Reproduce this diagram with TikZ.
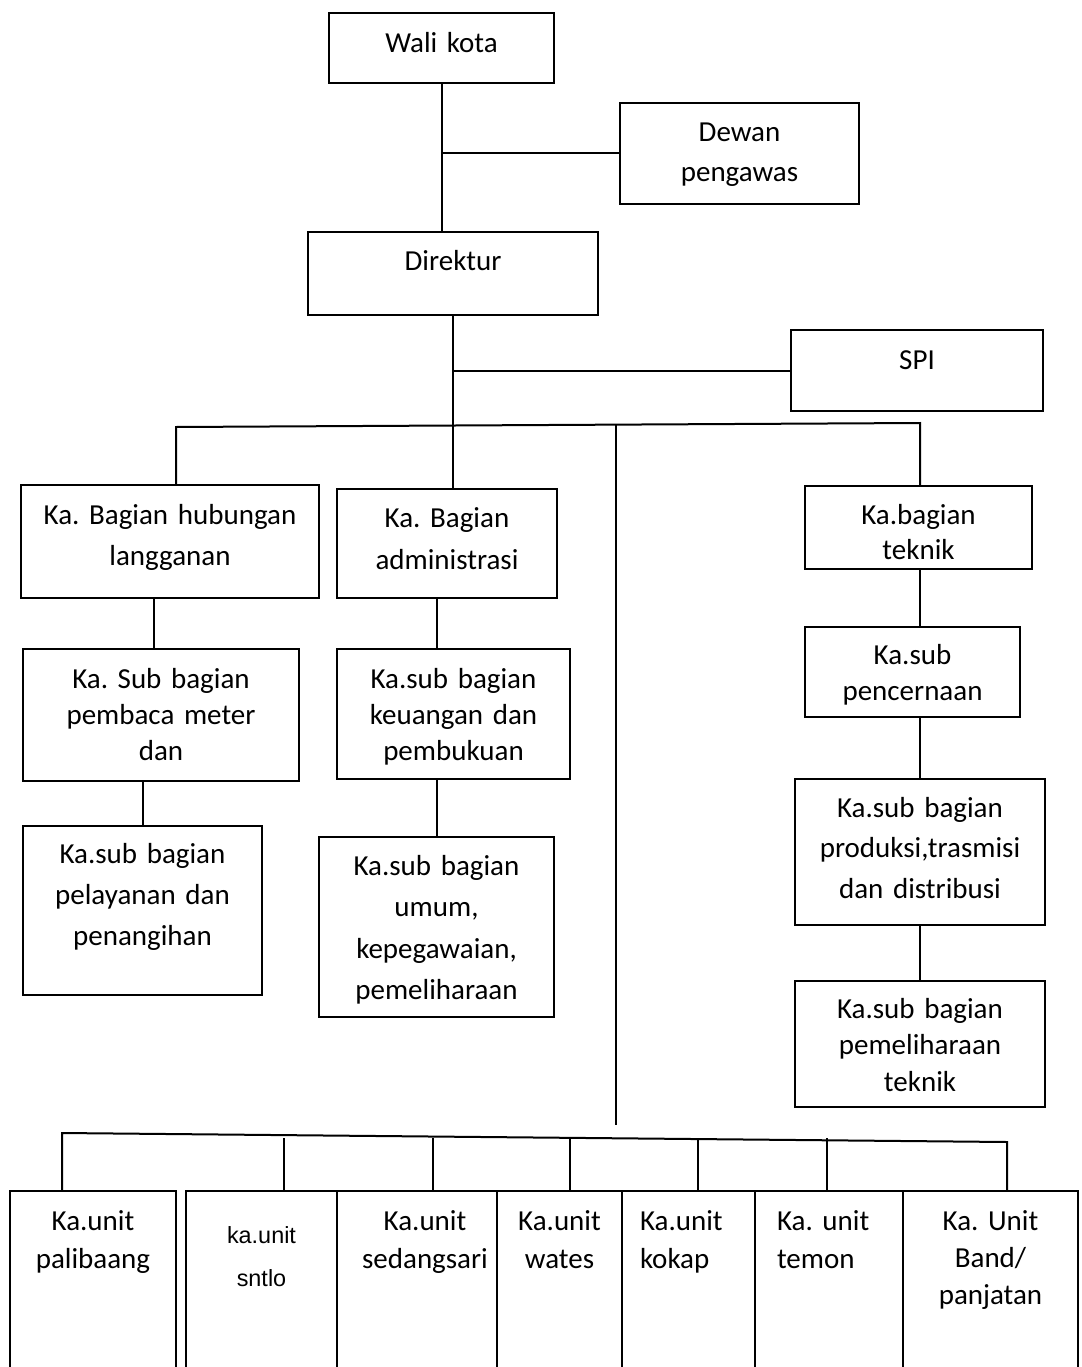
\documentclass[tikz,border=0pt]{standalone}
\usepackage{fontspec}
\setmainfont{Carlito}
\newfontfamily\arialfont{Liberation Sans}
\frenchspacing

\tikzset{
  orgbox/.style={draw, line width=2pt, inner xsep=0pt, inner ysep=0pt, anchor=base, align=center, font=\fontsize{29}{38}\selectfont},
  leadsp/.style={font=\fontsize{29}{#1}\selectfont},
  link/.style={line width=2pt},
}

\begin{document}
\begin{tikzpicture}[x=1pt, y=-1pt]
        \useasboundingbox (0,0) rectangle (1081,1367);
        \clip (0,0) rectangle (1081,1367);

        % top of the chart
        \node[orgbox, text width=225pt, text height=40pt, text depth=30pt] (wali) at (441.5,53) {Wali kota};
        \node[orgbox, leadsp=40, text width=239pt, text height=39pt, text depth=62pt] (dewan) at (739.5,142) {Dewan\\pengawas};
        \node[orgbox, text width=290pt, text height=38pt, text depth=45pt] (direktur) at (453,270) {Direktur};
        \node[orgbox, text width=252pt, text height=39pt, text depth=42pt] (spi) at (917,369) {SPI};

        % bagian
        \node[orgbox, leadsp=41, text width=298pt, text height=39pt, text depth=74pt] (hubungan) at (170,524) {Ka. Bagian hubungan\\langganan};
        \node[orgbox, leadsp=42, text width=220pt, text height=38pt, text depth=71pt] (admin) at (447,527) {Ka. Bagian\\administrasi};
        \node[orgbox, leadsp=35, text width=227pt, text height=38pt, text depth=45pt] (teknik) at (918.5,524) {Ka.bagian\\teknik};

        % sub bagian
        \node[orgbox, leadsp=36, text width=276pt, text height=39pt, text depth=93pt] (pembaca) at (161,688) {Ka. Sub bagian\\pembaca meter\\dan};
        \node[orgbox, leadsp=41, text width=239pt, text height=37pt, text depth=132pt] (pelayanan) at (142.5,863) {Ka.sub bagian\\pelayanan dan\\penangihan};
        \node[orgbox, leadsp=36, text width=233pt, text height=39pt, text depth=91pt] (keuangan) at (453.5,688) {Ka.sub bagian\\keuangan dan\\pembukuan};
        \node[orgbox, leadsp=41.5, text width=235pt, text height=38pt, text depth=142pt] (umum) at (436.5,875) {Ka.sub bagian\\umum,\\kepegawaian,\\pemeliharaan};
        \node[orgbox, leadsp=36, text width=215pt, text height=37pt, text depth=53pt] (pencernaan) at (912.5,664) {Ka.sub\\pencernaan};
        \node[orgbox, leadsp=40.5, text width=250pt, text height=38pt, text depth=108pt] (produksi) at (920,817) {Ka.sub bagian\\produksi,trasmisi\\dan distribusi};
        \node[orgbox, leadsp=36.5, text width=250pt, text height=37pt, text depth=89pt] (pemtek) at (920,1018) {Ka.sub bagian\\pemeliharaan\\teknik};

        % unit
        \node[orgbox, text width=166pt, text height=39pt, text depth=200pt] (palibaang) at (93,1230) {Ka.unit\\palibaang};
        \node[orgbox, font=\arialfont\fontsize{23.4}{43}\selectfont, text width=151pt, text height=52pt, text depth=187pt] (sntlo) at (261.5,1243) {ka.unit\\sntlo};
        \node[orgbox, text width=160pt, text height=39pt, text depth=200pt] (sedang) at (417,1230) {\hspace*{16pt}Ka.unit\\\hspace*{16pt}sedangsari};
        \node[orgbox, text width=125pt, text height=39pt, text depth=200pt] (wates) at (559.5,1230) {Ka.unit\\wates};
        \node[orgbox, align=left, text width=97pt, inner xsep=18pt, text height=39pt, text depth=200pt] (kokap) at (688.5,1230) {Ka.unit\\kokap};
        \node[orgbox, align=left, text width=104pt, inner xsep=22pt, text height=39pt, text depth=200pt] (temon) at (829,1230) {Ka. unit\\temon};
        \node[orgbox, leadsp=37, text width=175pt, text height=39pt, text depth=200pt] (band) at (990.5,1230) {Ka. Unit\\Band/\\panjatan};

        % lines
        \coordinate (busl) at (176,427);
        \coordinate (busr) at (920,423);
        \coordinate (midtop) at (616,425);
        \coordinate (midend) at (616,1125);
        \coordinate (ubl) at (62,1133);
        \coordinate (ubr) at (1007,1142);

        \draw[link] (wali.south) -- (wali.south |- direktur.north);
        \draw[link] (wali.south |- dewan.west) -- (dewan.west);
        \draw[link] (direktur.south) -- (direktur.south |- admin.north);
        \draw[link] (direktur.south |- spi.west) -- (spi.west);
        \draw[link] (busl |- hubungan.north) -- (busl) -- (busr) -- (busr |- teknik.north);
        \draw[link] (midtop) -- (midend);

        \draw[link] ([xshift=-7pt]pembaca.north) -- ([xshift=-7pt]pembaca.north |- hubungan.south);
        \draw[link] (pelayanan.north |- pembaca.south) -- (pelayanan.north);
        \draw[link] (umum.north |- admin.south) -- (umum.north |- keuangan.north);
        \draw[link] (umum.north |- keuangan.south) -- (umum.north);
        \draw[link] (produksi.north |- teknik.south) -- (produksi.north |- pencernaan.north);
        \draw[link] (produksi.north |- pencernaan.south) -- (produksi.north);
        \draw[link] (produksi.south) -- (pemtek.north);

        \draw[link] (ubl |- palibaang.north) -- (ubl) -- (ubr) -- (ubr |- band.north);
        \foreach \u/\dx in {sntlo/22, sedang/16, wates/10, kokap/9, temon/-2}
          \draw[link] ([xshift=\dx pt]\u.north) -- ++(0,-52);
\end{tikzpicture}
\end{document}
